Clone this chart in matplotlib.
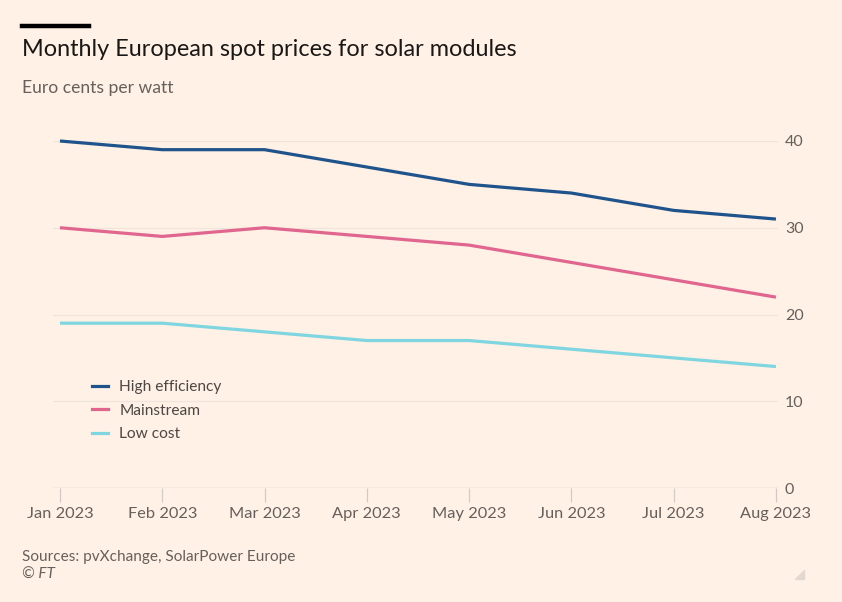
import matplotlib
matplotlib.use("Agg")
import matplotlib.pyplot as plt
from matplotlib.lines import Line2D
from matplotlib.patches import Polygon

months = ["Jan 2023", "Feb 2023", "Mar 2023", "Apr 2023",
          "May 2023", "Jun 2023", "Jul 2023", "Aug 2023"]
high_eff = [40, 39, 39, 37, 35, 34, 32, 31]
mainstream = [30, 29, 30, 29, 28, 26, 24, 22]
low_cost = [19, 19, 18, 17, 17, 16, 15, 14]
y_ticks = [0, 10, 20, 30, 40]

bg = "#FFF1E5"
c_high = "#1F538C"
c_main = "#E0668F"
c_low = "#7FD6E0"
txt_grey = "#66605C"

plt.rcParams['font.family'] = ['Lato', 'DejaVu Sans']

fig = plt.figure(figsize=(8.42, 6.02), dpi=100, facecolor=bg)
W, H = 842, 602

# axes placed in pixel terms
ax = fig.add_axes([53 / W, 1 - 488 / H, (778 - 53) / W, (488 - 141) / H])
ax.set_facecolor(bg)

x = list(range(len(months)))
ax.plot(x, high_eff, color=c_high, lw=2.3, clip_on=False, solid_capstyle="butt", zorder=3)
ax.plot(x, mainstream, color=c_main, lw=2.3, clip_on=False, solid_capstyle="butt", zorder=3)
ax.plot(x, low_cost, color=c_low, lw=2.3, clip_on=False, solid_capstyle="butt", zorder=3)

ax.set_xlim(-0.068, 7.02)
ax.set_ylim(0, 40)

for s in ax.spines.values():
    s.set_visible(False)

# grid
for yv in y_ticks[1:]:
    ax.axhline(yv, color="#F0E5DB", lw=0.9, zorder=1)
ax.axhline(0, color="#D3CAC2", lw=1.0, zorder=2)

ax.yaxis.tick_right()
ax.set_yticks(y_ticks)
ax.set_yticklabels([str(v) for v in y_ticks], fontsize=11.5, color=txt_grey)
ax.tick_params(axis="y", length=0, pad=5)

ax.set_xticks(x)
ax.set_xticklabels(months, fontsize=11.8, color=txt_grey)
ax.tick_params(axis="x", length=10, color="#D3CAC2", width=0.9, pad=4)

handles = [Line2D([], [], color=c_high, lw=2.3),
           Line2D([], [], color=c_main, lw=2.3),
           Line2D([], [], color=c_low, lw=2.3)]
leg = ax.legend(handles, ["High efficiency", "Mainstream", "Low cost"],
                loc="upper left", bbox_to_anchor=(92 / W, 1 - 380 / H),
                bbox_transform=fig.transFigure, frameon=False,
                fontsize=11.2, handlelength=1.05, handletextpad=0.7,
                labelspacing=0.62, borderpad=0, borderaxespad=0)
for t in leg.get_texts():
    t.set_color("#4D4845")

# header
fig.add_artist(Line2D([22 / W, 89 / W], [1 - 25.5 / H, 1 - 25.5 / H],
                      color="black", lw=3.2, transform=fig.transFigure))
fig.text(22 / W, 1 - 50 / H, "Monthly European spot prices for solar modules",
         fontsize=16.9, color="#1A1817", va="center", ha="left")
fig.text(22 / W, 1 - 88 / H, "Euro cents per watt",
         fontsize=12.6, color=txt_grey, va="center", ha="left")

# footer
fig.text(22 / W, 1 - 557 / H, "Sources: pvXchange, SolarPower Europe",
         fontsize=11.1, color=txt_grey, va="center", ha="left")
fig.text(22 / W, 1 - 575 / H, "© FT", fontsize=11.1, color=txt_grey,
         va="center", ha="left", style="italic")

fig.add_artist(Polygon([[804 / W, 1 - 570 / H], [804 / W, 1 - 579 / H], [795 / W, 1 - 579 / H]],
                       closed=True, color="#E2D8CF", transform=fig.transFigure))

fig.savefig("out.png", dpi=100, facecolor=bg)
